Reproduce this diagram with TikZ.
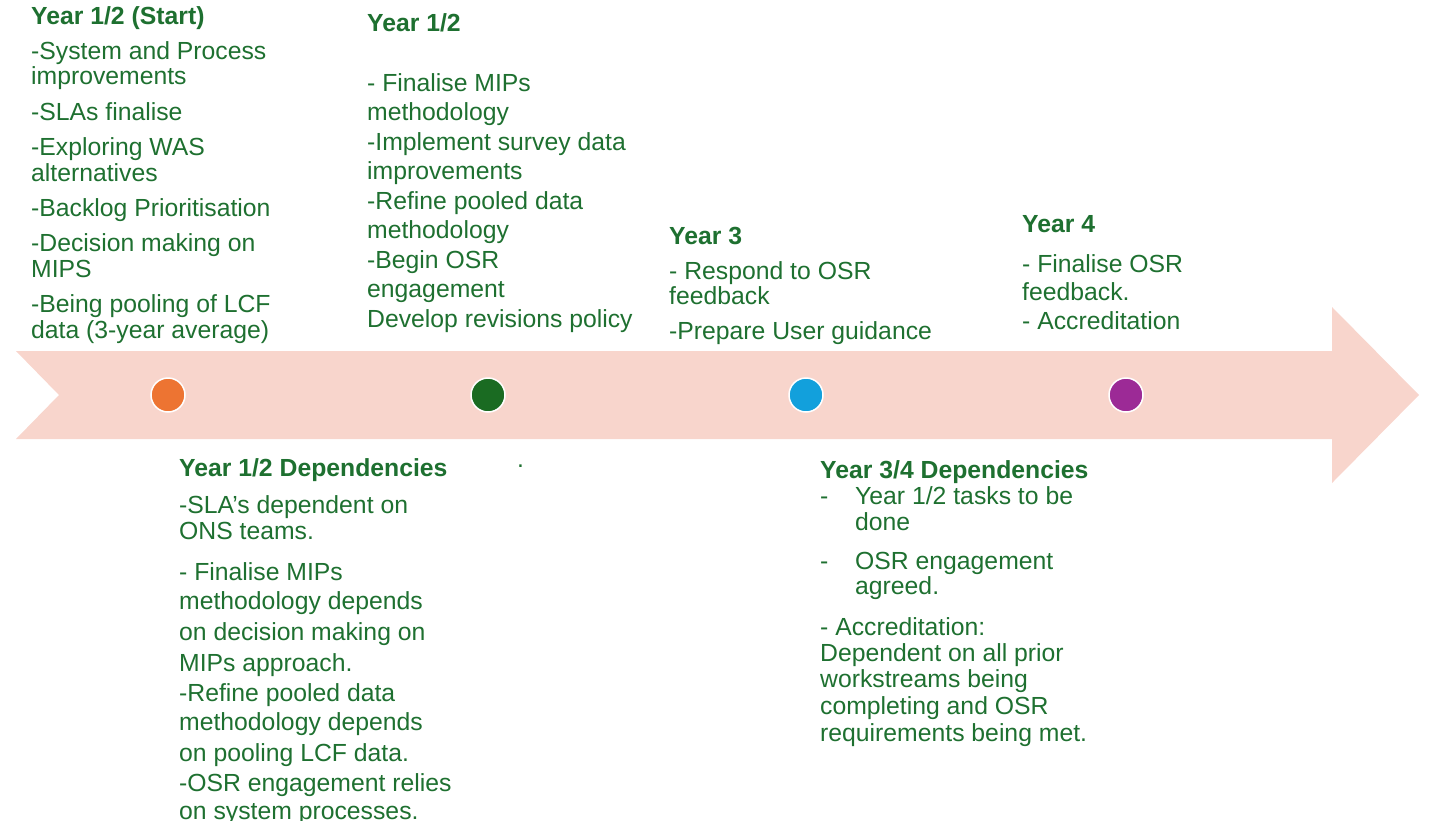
\documentclass[tikz,border=0pt]{standalone}
\usepackage{fontspec}
\setmainfont{Liberation Sans}
\definecolor{tgreen}{HTML}{1E7030}
\definecolor{pinkarrow}{HTML}{F8D5CC}
\definecolor{corange}{HTML}{ED7432}
\definecolor{cgreen}{HTML}{1A6B22}
\definecolor{cblue}{HTML}{12A0DC}
\definecolor{cpurple}{HTML}{9C2A96}
\newcommand\fs{\fontsize{24.75pt}{26pt}\selectfont}
\tikzset{
  txt/.style={anchor=base west, inner sep=0pt, text=tgreen, font=\fs},
  head/.style={txt, font=\fs\bfseries},
  dot/.style={circle, minimum size=34pt, inner sep=0pt, draw=white, line width=1.5pt},
}
\begin{document}
\begin{tikzpicture}[x=1pt,y=-1pt]
\useasboundingbox (0,0) rectangle (1435,820);
% arrow
\fill[pinkarrow] (16,351) -- (1332,351) -- (1332,307) -- (1419,395) -- (1332,483) -- (1332,439) -- (16,439) -- (59,395) -- cycle;
% circles
\node[dot, fill=corange] (c1) at (168,395) {};
\node[dot, fill=cgreen] (c2) at (488,395) {};
\node[dot, fill=cblue] (c3) at (806,395) {};
\node[dot, fill=cpurple] (c4) at (1126,395) {};
% Year 1/2 (Start)
\node[head] (a0) at (31,24.5) {Year 1/2 (Start)};
\node[txt] (a1) at (31,59) {-System and Process};
\node[txt] (a2) at (31,84.5) {improvements};
\node[txt] (a3) at (31,120) {-SLAs finalise};
\node[txt] (a4) at (31,155) {-Exploring WAS};
\node[txt] (a5) at (31,181) {alternatives};
\node[txt] (a6) at (31,216) {-Backlog Prioritisation};
\node[txt] (a7) at (31,251) {-Decision making on};
\node[txt] (a8) at (31,277) {MIPS};
\node[txt] (a9) at (31,312) {-Being pooling of LCF};
\node[txt] (a10) at (31,338) {data (3-year average)};
% Year 1/2
\node[head] (b0) at (367,31.5) {Year 1/2};
\node[txt] (b1) at (367,91) {- Finalise MIPs};
\node[txt] (b2) at (367,120.5) {methodology};
\node[txt] (b3) at (367,150) {-Implement survey data};
\node[txt] (b4) at (367,179.5) {improvements};
\node[txt] (b5) at (367,209) {-Refine pooled data};
\node[txt] (b6) at (367,238.5) {methodology};
\node[txt] (b7) at (367,268) {-Begin OSR};
\node[txt] (b8) at (367,297.5) {engagement};
\node[txt] (b9) at (367,327) {Develop revisions policy};
% Year 3
\node[head] (y0) at (669,244) {Year 3};
\node[txt] (y1) at (669,279) {- Respond to OSR};
\node[txt] (y2) at (669,304.5) {feedback};
\node[txt] (y3) at (669,339) {-Prepare User guidance};
% Year 4
\node[head] (z0) at (1022,232) {Year 4};
\node[txt] (z1) at (1022,272) {- Finalise OSR};
\node[txt] (z2) at (1022,300) {feedback.};
\node[txt] (z3) at (1022,329) {- Accreditation};
% Year 1/2 Dependencies
\node[head] (d0) at (179,476) {Year 1/2 Dependencies};
\node[txt] (d1) at (179,513) {-SLA’s dependent on};
\node[txt] (d2) at (179,539) {ONS teams.};
\node[txt] (d3) at (179,580) {- Finalise MIPs};
\node[txt] (d4) at (179,609.5) {methodology depends};
\node[txt] (d5) at (179,640) {on decision making on};
\node[txt] (d6) at (179,671) {MIPs approach.};
\node[txt] (d7) at (179,701) {-Refine pooled data};
\node[txt] (d8) at (179,730) {methodology depends};
\node[txt] (d9) at (179,761) {on pooling LCF data.};
\node[txt] (d10) at (179,791) {-OSR engagement relies};
\node[txt] (d11) at (179,819) {on system processes.};
\node[txt] (dot) at (517,467) {.};
% Year 3/4 Dependencies
\node[head] (e0) at (820,478) {Year 3/4 Dependencies};
\node[txt] (e1) at (820,504) {\makebox[35pt][l]{-}Year 1/2 tasks to be};
\node[txt] (e2) at (855,530) {done};
\node[txt] (e3) at (820,569) {\makebox[35pt][l]{-}OSR engagement};
\node[txt] (e4) at (855,594) {agreed.};
\node[txt] (e5) at (820,635) {- Accreditation:};
\node[txt] (e6) at (820,661) {Dependent on all prior};
\node[txt] (e7) at (820,687) {workstreams being};
\node[txt] (e8) at (820,714) {completing and OSR};
\node[txt] (e9) at (820,741) {requirements being met.};
\end{tikzpicture}
\end{document}
